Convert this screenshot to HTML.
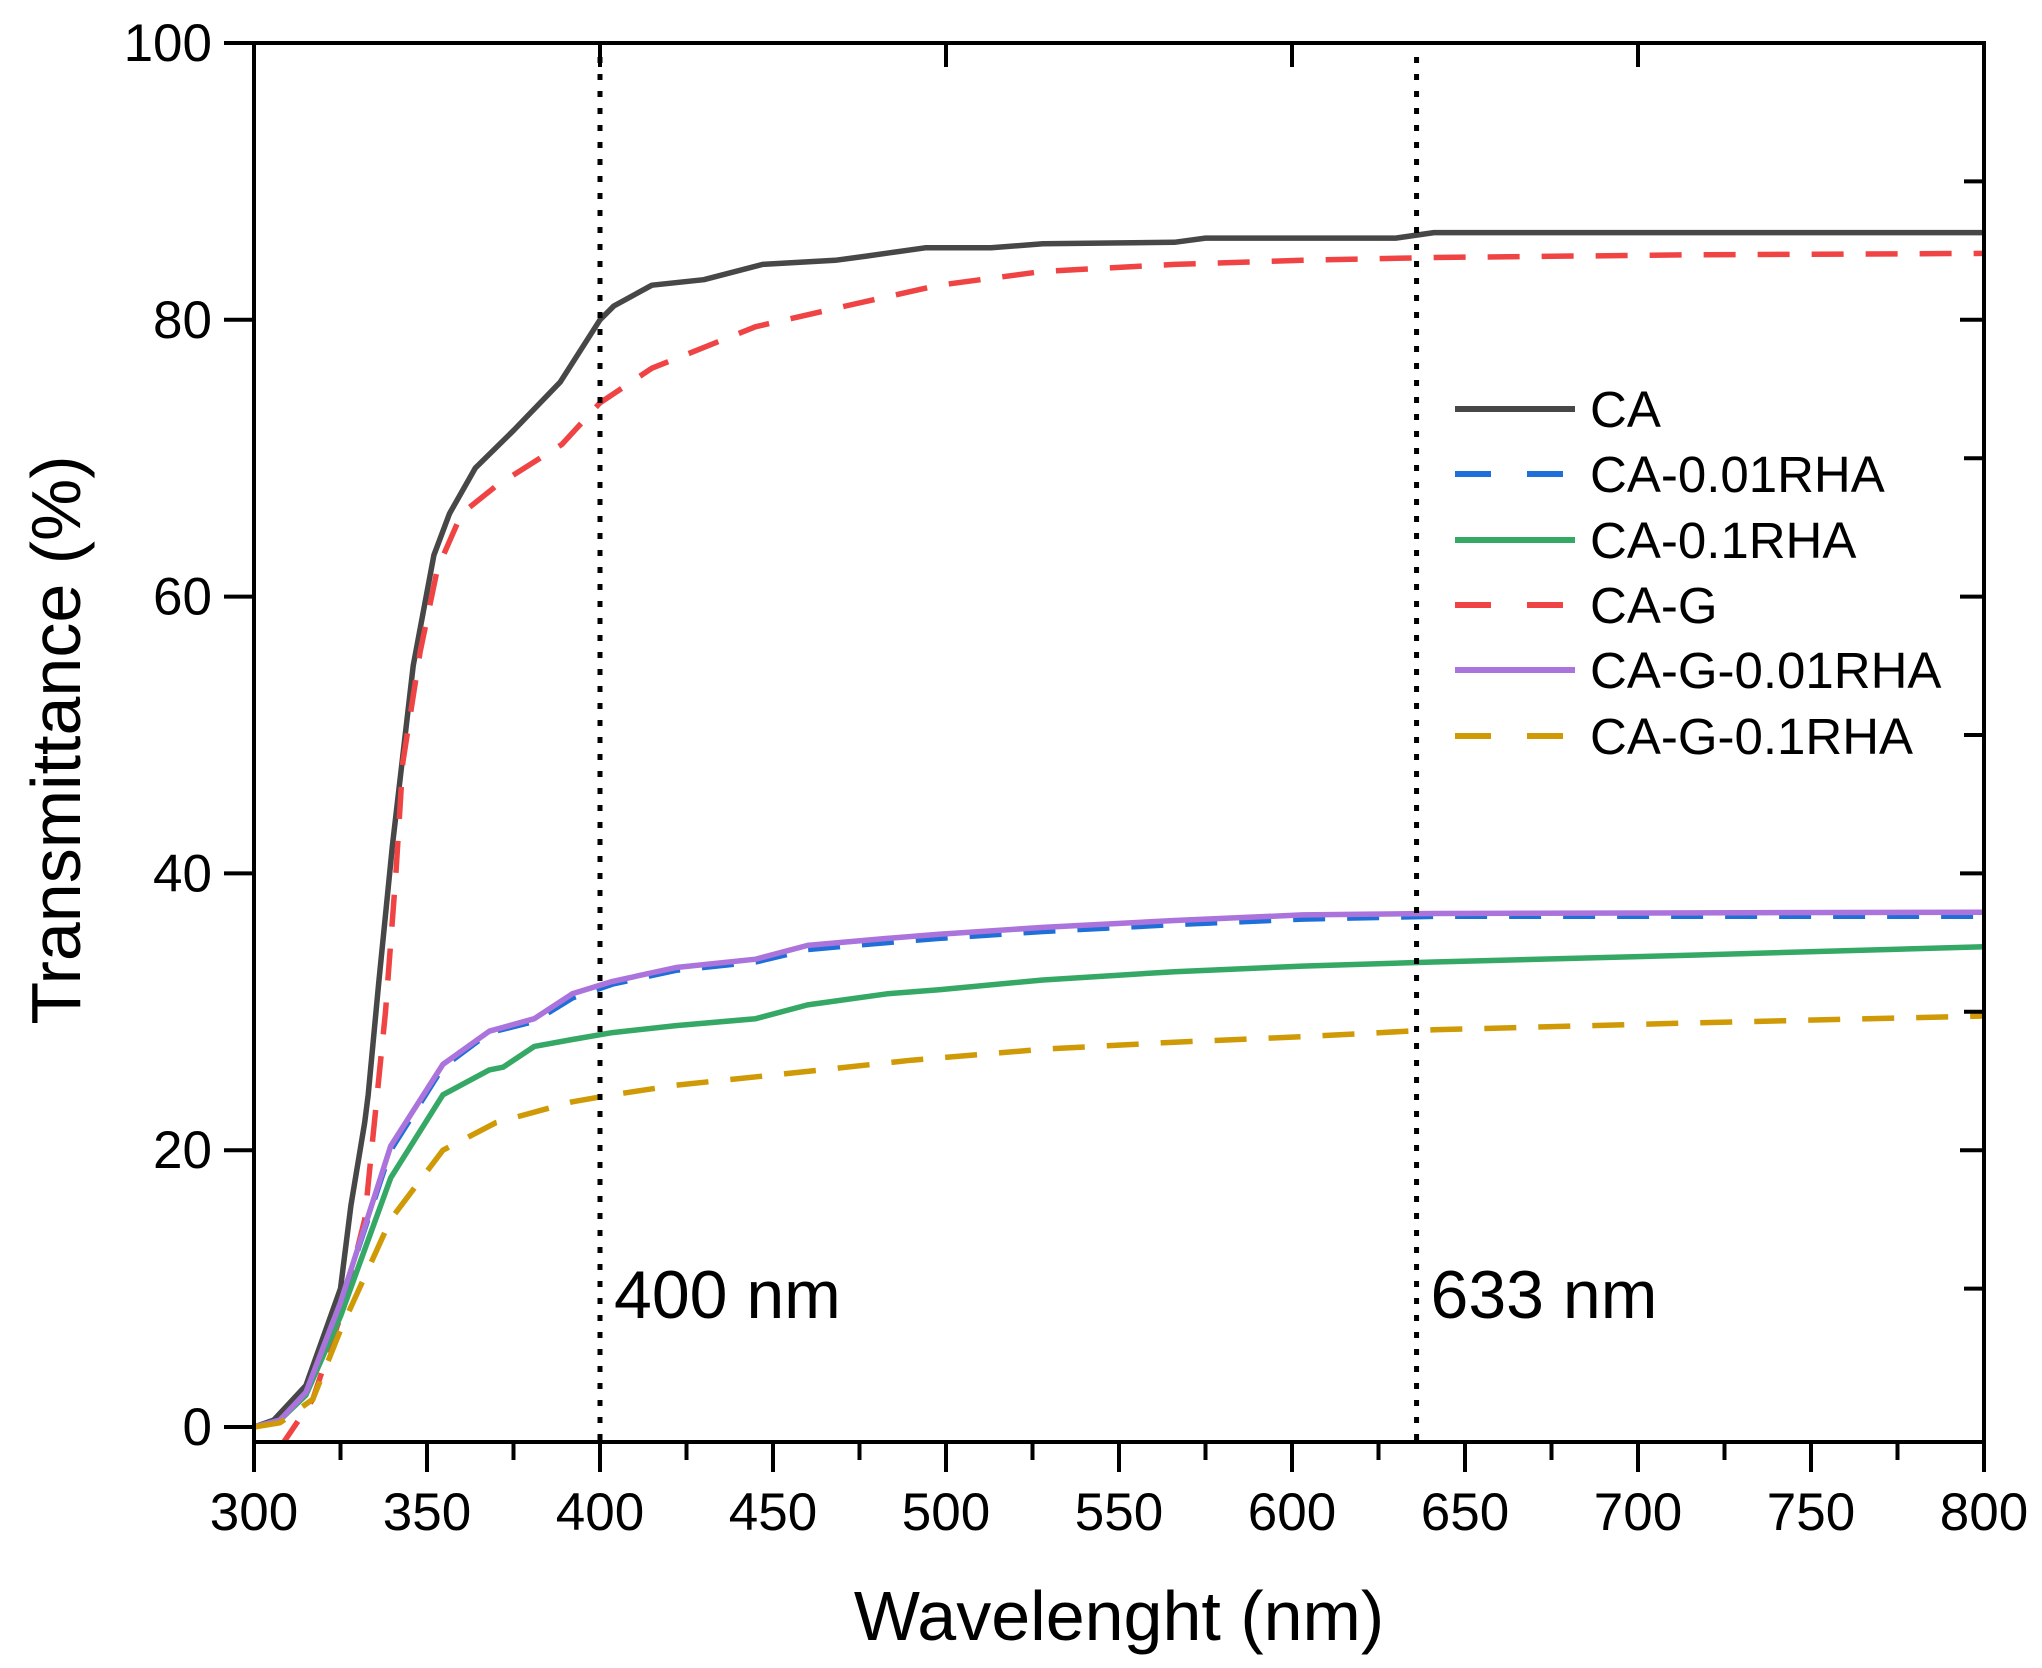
<!DOCTYPE html>
<html><head><meta charset="utf-8"><style>
html,body{margin:0;padding:0;background:#fff;}
svg{display:block;font-family:"Liberation Sans",Arial,sans-serif;}
</style></head><body>
<svg id="chart" width="2042" height="1668" viewBox="0 0 2042 1668" xmlns="http://www.w3.org/2000/svg">
<g id="plot"></g>
<g id="axes"></g>
<g id="legend"></g>
</svg>
<script>
const xTicks = [300,350,400,450,500,550,600,650,700,750,800];
const yTicks = [0,20,40,60,80,100];
const markerLines = [400,636];
const markerLabels = ["400 nm","633 nm"];
const seriesNames = ["CA","CA-0.01RHA","CA-0.1RHA","CA-G","CA-G-0.01RHA","CA-G-0.1RHA"];
const caX = [300,305.7,315,325,328,332,333,336,340,346,352,356.5,364,375,388.5,400,404,415,430,447,468,477,494,513,528,566,575,630,641,800];
const caY = [0,0.5,3,10,16,22,24,32,42,55,63,66,69.3,72,75.5,80,81,82.5,82.9,84,84.3,84.6,85.2,85.2,85.5,85.6,85.9,85.9,86.3,86.3];
const cagX = [307.5,317,325,332,334,338,341,343,348,353,360,370,389,400,415,445,471,498,528,566,603,641,716,800];
const cagY = [-1.5,2,8,15,20,30,40,48,56,62,66,68,71,74,76.5,79.5,81,82.5,83.5,84,84.3,84.5,84.7,84.8];
const ca01X = [300,307.5,315,325,339.5,354.6,368,381,392,403.6,422,445,460,483,498,528,566,603,641,800];
const ca001Y = [0,0.5,2.5,9,20,26,28.5,29.3,31,32,33,33.6,34.5,35,35.3,35.8,36.3,36.7,36.9,36.9];
const cag001Y = [0,0.5,2.5,9,20.3,26.2,28.6,29.5,31.3,32.2,33.2,33.8,34.8,35.3,35.6,36.1,36.6,37,37.1,37.2];
const ca01X2 = [300,307.5,315,325,339.5,354.6,368,372,381,392,403.6,422,445,460,483,498,528,566,603,641,716,800];
const ca01Y = [0,0.5,2.3,8,18,24,25.8,26,27.5,28,28.5,29,29.5,30.5,31.3,31.6,32.3,32.9,33.3,33.6,34.1,34.7];
const cag01X = [300,307.5,317,325,339.5,354.6,370,392,403.6,422,452.6,490,528,566,603,641,716,800];
const cag01Y = [0,0.3,2,7,15,20,22,23.5,24,24.7,25.5,26.5,27.3,27.8,28.2,28.7,29.2,29.7];

const X0=254, X1=1984, Y0=1427, Y100=43, BOT=1442, TOP=43;
const sx = w => X0 + (w-300)/(500)*(X1-X0);
const sy = v => Y0 + v/100*(Y100-Y0);
const NS="http://www.w3.org/2000/svg";
function mk(tag, parent, attrs){const e=document.createElementNS(NS,tag);for(const k in attrs)e.setAttribute(k,attrs[k]);parent.appendChild(e);return e;}
const plot=document.getElementById('plot'), axes=document.getElementById('axes'), legend=document.getElementById('legend');

const defs=mk('defs',plot,{});
const cp=mk('clipPath',defs,{id:'clip'});
mk('rect',cp,{x:X0,y:TOP,width:X1-X0,height:BOT-TOP});

const styles=[
 {c:'#474747',d:null},{c:'#1f6fd8',d:'32 22'},{c:'#36a866',d:null},
 {c:'#f04444',d:'32 22'},{c:'#ab74dc',d:null},{c:'#cf9a06',d:'32 22'}];
const series=[[caX,caY],[ca01X,ca001Y],[ca01X2,ca01Y],[cagX,cagY],[ca01X,cag001Y],[cag01X,cag01Y]];
const order=[0,3,2,1,4,5];
const g=mk('g',plot,{'clip-path':'url(#clip)'});
order.forEach(i=>{
  const [xs,ys]=series[i];
  const d=xs.map((x,j)=>(j?'L':'M')+sx(x).toFixed(1)+' '+sy(ys[j]).toFixed(1)).join(' ');
  const p=mk('path',g,{d:d,fill:'none',stroke:styles[i].c,'stroke-width':5.5,'stroke-linejoin':'round','stroke-linecap':'butt'});
  if(styles[i].d)p.setAttribute('stroke-dasharray',styles[i].d);
  
  
});

markerLines.forEach((w,i)=>{
  const l=mk('line',plot,{x1:sx(w),x2:sx(w),y1:TOP+14,y2:BOT,stroke:'#000','stroke-width':5,'stroke-dasharray':'6 11'});
  
  
  const t=mk('text',plot,{x:sx(w)+14,y:1318,'font-size':68});
  t.textContent=markerLabels[i];
  
  
});

mk('rect',axes,{x:X0,y:TOP,width:X1-X0,height:BOT-TOP,fill:'none',stroke:'#000','stroke-width':4});
for(let w=300;w<=800;w+=25){
  const major=w%50===0;
  mk('line',axes,{x1:sx(w),x2:sx(w),y1:BOT,y2:BOT+(major?30:18),stroke:'#000','stroke-width':4});
  if(w%100===0&&w>300&&w<800) mk('line',axes,{x1:sx(w),x2:sx(w),y1:TOP,y2:TOP+24,stroke:'#000','stroke-width':4});
}
xTicks.forEach(w=>{
  const t=mk('text',axes,{x:sx(w),y:1530,'font-size':53,'text-anchor':'middle'});
  t.textContent=w;
  
  
});
for(let v=0;v<=100;v+=10){
  const major=v%20===0;
  if(major) mk('line',axes,{x1:X0-30,x2:X0,y1:sy(v),y2:sy(v),stroke:'#000','stroke-width':4});
  if(v>0&&v<100) mk('line',axes,{x1:X1-(major?24:20),x2:X1,y1:sy(v),y2:sy(v),stroke:'#000','stroke-width':4});
}
yTicks.forEach(v=>{
  const t=mk('text',axes,{x:X0-42,y:sy(v)+18,'font-size':53,'text-anchor':'end'});
  t.textContent=v;
  
  
});
const xt=mk('text',axes,{x:(X0+X1)/2,y:1640,'font-size':70,'text-anchor':'middle'});
xt.textContent='Wavelenght (nm)';


const yt=mk('text',axes,{x:0,y:0,'font-size':70,'text-anchor':'middle',transform:'translate(80,740) rotate(-90)'});
yt.textContent='Transmittance (%)';



const rowsY=[409,474,540,605,670,736];
seriesNames.forEach((n,i)=>{
  const e=mk('g',legend,{});
  
  
  const l=mk('line',e,{x1:1455,x2:1575,y1:rowsY[i],y2:rowsY[i],stroke:styles[i].c,'stroke-width':6});
  if(styles[i].d)l.setAttribute('stroke-dasharray','36 36');
  const t=mk('text',e,{x:1590,y:rowsY[i]+18,'font-size':51});
  t.textContent=n;
});
</script>
</body></html>
